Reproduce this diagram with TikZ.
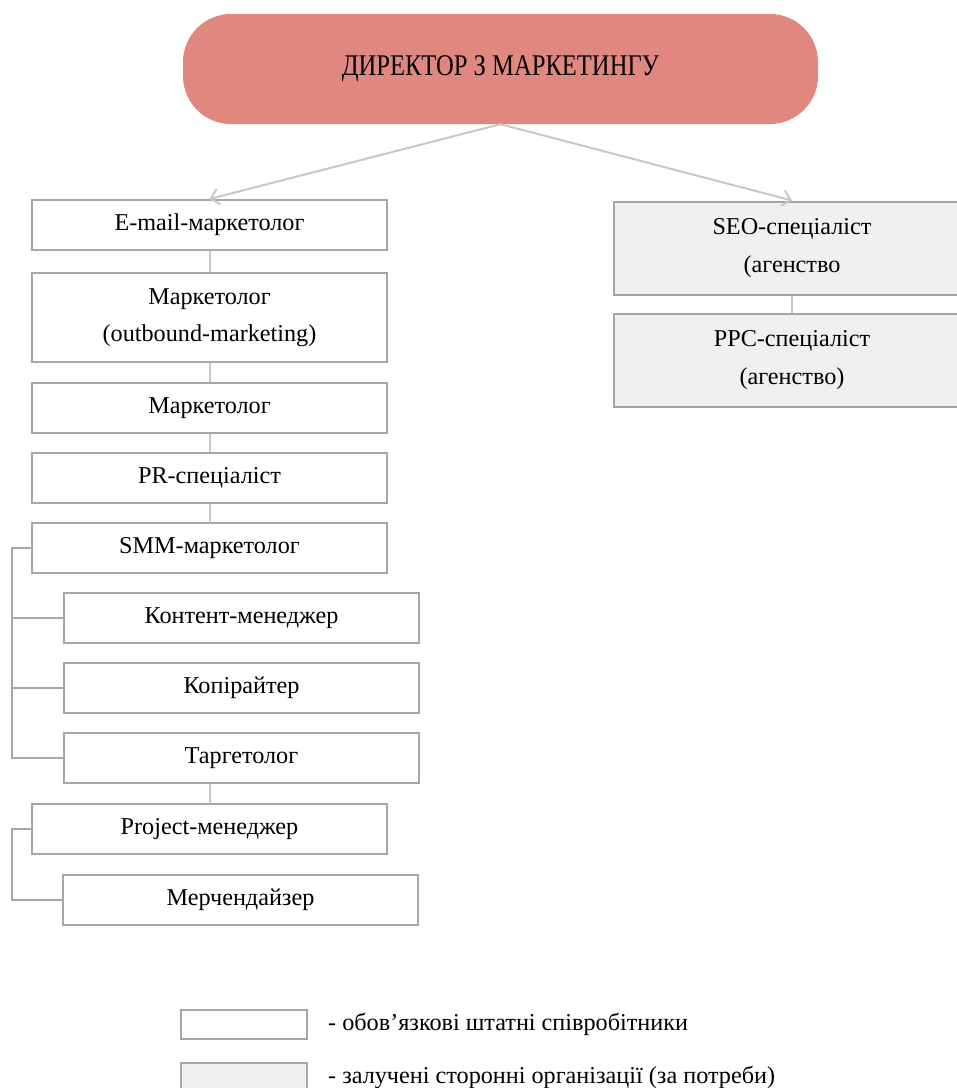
\documentclass[tikz,border=0pt]{standalone}
\usepackage{fontspec}
\setmainfont{Liberation Serif}
\newfontfamily\headfont[FakeStretch=0.82]{Liberation Serif}
\usepackage{xcolor}
\usetikzlibrary{arrows.meta,positioning}
\definecolor{headred}{RGB}{224,136,128}
\definecolor{boxline}{RGB}{166,166,166}
\definecolor{linkgray}{RGB}{200,200,200}
\definecolor{agency}{RGB}{240,240,240}
\begin{document}
\begin{tikzpicture}[
  x=1pt, y=-1pt,
  font=\fontsize{24.2}{37.5}\selectfont,
  >={Straight Barb[length=8pt,width=16pt]},
  box/.style={draw=boxline, line width=2pt, fill=white, minimum width=355pt,
              minimum height=50pt, align=center, inner sep=0pt},
  agencybox/.style={box, fill=agency, minimum width=356pt, minimum height=93pt},
  headbox/.style={fill=headred, rounded corners=48pt, minimum width=635pt,
                  minimum height=110pt, font=\headfont\fontsize{30}{36}\selectfont},
  link/.style={draw=linkgray, line width=2pt},
  busline/.style={draw=boxline, line width=2pt},
  arrow/.style={link, ->},
  keybox/.style={draw=boxline, line width=2pt, minimum width=126pt,
                 minimum height=29pt, inner sep=0pt},
  keytext/.style={anchor=west, inner sep=0pt},
]
\useasboundingbox (0,0) rectangle (957,1088);

\node[headbox] (director) at (500.5,69) {ДИРЕКТОР З МАРКЕТИНГУ};

% staff column
\node[box] (email) at (209.5,225) {E-mail-маркетолог};
\node[box, minimum height=89pt, below=21pt of email] (outbound) {Маркетолог\\(outbound-marketing)};
\node[box, below=19pt of outbound] (marketer) {Маркетолог};
\node[box, below=18pt of marketer] (pr) {PR-спеціаліст};
\node[box, below=18pt of pr] (smm) {SMM-маркетолог};
\node[box, below=18pt of smm, xshift=32pt] (content) {Контент-менеджер};
\node[box, below=18pt of content] (copywriter) {Копірайтер};
\node[box, below=18pt of copywriter] (target) {Таргетолог};
\node[box, below=19pt of target, xshift=-32pt] (pm) {Project-менеджер};
\node[box, below=19pt of pm, xshift=31pt] (merch) {Мерчендайзер};

% agencies
\node[agencybox] (seo) at (792,248) {SEO-спеціаліст\\(агенство};
\node[agencybox, below=17pt of seo] (ppc) {PPC-спеціаліст\\(агенство)};

% legend
\node[keybox] (keystaff) at (244,1024) {};
\node[keytext, right=20pt of keystaff] (keystafftext) {- обов’язкові штатні співробітники};
\node[keybox, fill=agency] (keyagency) at (244,1077) {};
\node[keytext, right=20pt of keyagency] (keyagencytext) {- залучені сторонні організації (за потреби)};

\draw[arrow] (director.south) -- (email.north);
\draw[arrow] (director.south) -- (seo.north);
\draw[link] (email) -- (outbound);
\draw[link] (outbound) -- (marketer);
\draw[link] (marketer) -- (pr);
\draw[link] (pr) -- (smm);
\draw[link] (target.south -| pm.north) -- (pm.north);
\draw[link] (seo) -- (ppc);

\coordinate[left=19pt of smm.west] (smmbus);
\draw[busline] (smm.west) -- (smmbus) |- (target.west);
\draw[busline] (smmbus |- content.west) -- (content.west);
\draw[busline] (smmbus |- copywriter.west) -- (copywriter.west);
\coordinate[left=19pt of pm.west] (pmbus);
\draw[busline] (pm.west) -- (pmbus) |- (merch.west);

\end{tikzpicture}
\end{document}
